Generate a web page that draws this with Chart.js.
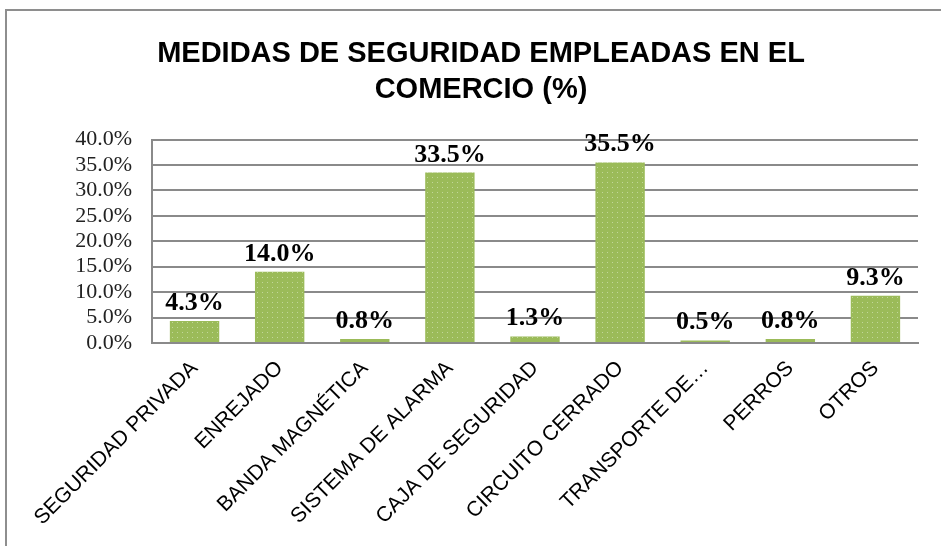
<!DOCTYPE html>
<html>
<head>
<meta charset="utf-8">
<script src="https://cdn.jsdelivr.net/npm/chart.js@4"></script>
<style>
    html, body { margin: 0; padding: 0; background: #fff; overflow: hidden; }
    #wrap { width: 941px; height: 546px; }
</style>
</head>
<body>
<div id="wrap"><canvas id="chart" width="941" height="546"></canvas></div>
<script>
// Medidas de seguridad - gráfico de barras

const categories = [
    'SEGURIDAD PRIVADA',
    'ENREJADO',
    'BANDA MAGNÉTICA',
    'SISTEMA DE ALARMA',
    'CAJA DE SEGURIDAD',
    'CIRCUITO CERRADO',
    'TRANSPORTE DE…',
    'PERROS',
    'OTROS'
];
const percentValues = [4.3, 14.0, 0.8, 33.5, 1.3, 35.5, 0.5, 0.8, 9.3];
const titleLines = ['MEDIDAS DE SEGURIDAD EMPLEADAS EN EL', 'COMERCIO (%)'];

// relleno punteado de las barras
function makeDotPattern() {
    const c = document.createElement('canvas');
    c.width = 5;
    c.height = 5;
    const g = c.getContext('2d');
    g.fillStyle = '#9bbb59';
    g.fillRect(0, 0, 5, 5);
    g.fillStyle = '#c2d79a';
    g.fillRect(2, 2, 1, 1);
    return g.createPattern(c, 'repeat');
}

// marco gris alrededor del gráfico
const framePlugin = {
    id: 'frame',
    beforeDraw(chart) {
        const ctx = chart.ctx;
        ctx.save();
        ctx.fillStyle = '#fff';
        ctx.fillRect(0, 0, chart.width, chart.height);
        ctx.strokeStyle = '#8e8e8e';
        ctx.lineWidth = 2;
        ctx.strokeRect(6, 10, chart.width + 20, chart.height + 20);
        ctx.restore();
    }
};

// etiquetas de valor encima de las barras
const valueLabels = {
    id: 'valueLabels',
    afterDatasetsDraw(chart) {
        const ctx = chart.ctx;
        const meta = chart.getDatasetMeta(0);
        ctx.save();
        ctx.font = 'bold 26px "Liberation Serif", "Times New Roman", serif';
        ctx.fillStyle = '#000';
        ctx.textAlign = 'center';
        ctx.textBaseline = 'alphabetic';
        meta.data.forEach((bar, i) => {
            ctx.fillText(percentValues[i].toFixed(1) + '%', bar.x, bar.y - 11);
        });
        ctx.restore();
    }
};

const ctx = document.getElementById('chart').getContext('2d');
new Chart(ctx, {
    type: 'bar',
    data: {
        labels: categories,
        datasets: [{
            data: percentValues,
            backgroundColor: makeDotPattern(),
            borderWidth: 0,
            categoryPercentage: 1,
            barPercentage: 0.58
        }]
    },
    options: {
        responsive: false,
        animation: false,
        layout: { padding: { left: 44, right: 23, top: 0, bottom: 0 } },
        plugins: {
            legend: { display: false },
            tooltip: { enabled: false },
            title: {
                display: true,
                text: titleLines,
                color: '#000',
                font: { family: '"Liberation Sans", Arial, sans-serif', size: 29, weight: 'bold', lineHeight: 1.25 },
                padding: { top: 36, bottom: 31 }
            }
        },
        scales: {
            x: {
                grid: { display: false, drawTicks: false },
                border: { display: true, color: '#8a8a8a', width: 2 },
                ticks: {
                    color: '#000',
                    font: { family: '"Liberation Sans", Arial, sans-serif', size: 21 },
                    maxRotation: 45,
                    minRotation: 45,
                    autoSkip: false,
                    padding: 13
                },
                afterFit: (scale) => { scale.height = 203; }
            },
            y: {
                min: 0,
                max: 40,
                grid: { color: '#8a8a8a', lineWidth: 2, drawTicks: false },
                border: { display: true, color: '#8a8a8a', width: 2 },
                ticks: {
                    stepSize: 5,
                    autoSkip: false,
                    color: '#222',
                    padding: 20,
                    font: { family: '"Liberation Serif", "Times New Roman", serif', size: 22, lineHeight: 1 },
                    callback: (v) => v.toFixed(1) + '%'
                },
                afterFit: (scale) => { scale.width = 108; }
            }
        }
    },
    plugins: [framePlugin, valueLabels]
});
</script>
</body>
</html>
